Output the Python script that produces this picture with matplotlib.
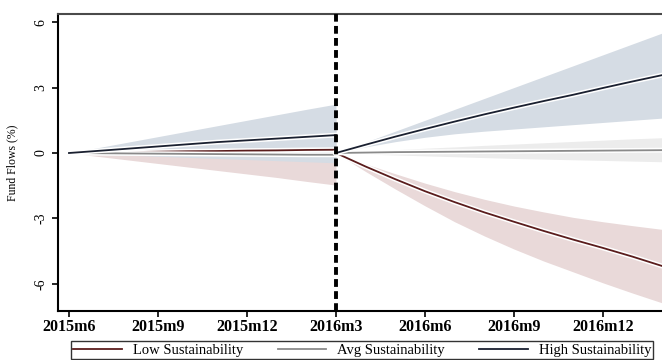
import matplotlib
matplotlib.use('Agg')
import matplotlib.pyplot as plt
import matplotlib.patheffects as pe
import numpy as np

# months since 2015m6
months_pre = [0, 1, 2, 3, 4, 5, 6, 7, 8, 9]
months_post = [9, 10, 11, 12, 13, 14, 15, 16, 17, 18, 19, 20]
tick_pos = [0, 3, 6, 9, 12, 15, 18]
tick_labels = ['2015m6', '2015m9', '2015m12', '2016m3', '2016m6', '2016m9', '2016m12']
event_month = 9

# pre-period responses
high_pre = [0, 0.1, 0.2, 0.3, 0.4, 0.5, 0.58, 0.66, 0.74, 0.82]
high_pre_hi = [0, 0.25, 0.5, 0.75, 1.0, 1.25, 1.5, 1.75, 2.0, 2.24]
high_pre_lo = [0, -0.05, -0.1, -0.15, -0.2, -0.25, -0.3, -0.35, -0.4, -0.45]
avg_pre = [0, -0.01, -0.02, -0.03, -0.04, -0.05, -0.06, -0.07, -0.08, -0.08]
avg_pre_hi = [0, 0.03, 0.06, 0.09, 0.12, 0.15, 0.18, 0.21, 0.24, 0.27]
avg_pre_lo = [0, -0.04, -0.08, -0.12, -0.16, -0.2, -0.24, -0.28, -0.32, -0.36]
low_pre = [0, 0.02, 0.04, 0.06, 0.08, 0.09, 0.11, 0.12, 0.14, 0.15]
low_pre_hi = [0, 0.2, 0.4, 0.6, 0.8, 1.0, 1.2, 1.4, 1.6, 1.75]
low_pre_lo = [0, -0.16, -0.32, -0.48, -0.64, -0.8, -0.96, -1.12, -1.3, -1.47]

# post-period responses
high_post = [0, 0.38, 0.75, 1.1, 1.44, 1.77, 2.08, 2.38, 2.67, 2.98, 3.28, 3.57]
high_post_hi = [0, 0.5, 1.0, 1.5, 2.0, 2.5, 3.0, 3.5, 4.0, 4.5, 5.0, 5.5]
high_post_lo = [0, 0.28, 0.52, 0.72, 0.88, 1.0, 1.1, 1.2, 1.3, 1.4, 1.5, 1.6]
avg_post = [0, 0.02, 0.04, 0.05, 0.06, 0.07, 0.08, 0.09, 0.1, 0.11, 0.12, 0.13]
avg_post_hi = [0, 0.08, 0.15, 0.22, 0.28, 0.35, 0.41, 0.47, 0.53, 0.59, 0.65, 0.7]
avg_post_lo = [0, -0.05, -0.09, -0.13, -0.17, -0.21, -0.25, -0.28, -0.31, -0.34, -0.37, -0.4]
low_post = [0, -0.62, -1.2, -1.75, -2.25, -2.72, -3.15, -3.57, -3.97, -4.35, -4.75, -5.18]
low_post_hi = [0, -0.5, -0.95, -1.38, -1.77, -2.12, -2.43, -2.7, -2.95, -3.15, -3.33, -3.5]
low_post_lo = [0, -0.85, -1.65, -2.42, -3.15, -3.8, -4.4, -4.95, -5.45, -5.95, -6.42, -6.87]

plt.rcParams['font.family'] = ['Liberation Serif', 'DejaVu Serif']

c_low, c_avg, c_high = '#5a1c1c', '#8a8a8a', '#1a2030'
f_low, f_avg, f_high = '#e9d9d9', '#ececec', '#d5dce4'

fig = plt.figure(figsize=(6.62, 3.6), dpi=100)
ax = fig.add_axes([58 / 662, 1 - 311 / 360, 612 / 662, 297 / 360])

halo = [pe.Stroke(linewidth=3.5, foreground='white'), pe.Normal()]

for m, lo, hi, fc in [
    (months_pre, low_pre_lo, low_pre_hi, f_low),
    (months_pre, avg_pre_lo, avg_pre_hi, f_avg),
    (months_pre, high_pre_lo, high_pre_hi, f_high),
    (months_post, low_post_lo, low_post_hi, f_low),
    (months_post, avg_post_lo, avg_post_hi, f_avg),
    (months_post, high_post_lo, high_post_hi, f_high),
]:
    ax.fill_between(m, lo, hi, color=fc, lw=0, zorder=1)
for m, mid, lc in [
    (months_pre, low_pre, c_low), (months_pre, avg_pre, c_avg), (months_pre, high_pre, c_high),
    (months_post, low_post, c_low), (months_post, avg_post, c_avg), (months_post, high_post, c_high),
]:
    ax.plot(m, mid, color=lc, lw=1.3, zorder=3, path_effects=halo)

ax.axvline(event_month, color='black', lw=2.8, ls=(0, (2.0, 1.1)), zorder=4)

ax.set_xlim(-0.37, 20.26)
ax.set_ylim(-7.24, 6.37)
ax.set_xticks(tick_pos)
ax.set_xticklabels(tick_labels, fontsize=11.5, fontweight='bold')
ax.set_yticks([-6, -3, 0, 3, 6])
ax.set_yticklabels(['-6', '-3', '0', '3', '6'], rotation=90, va='center', fontsize=10)
ax.tick_params(axis='both', direction='out', length=4, width=1.2, color='black')
ax.tick_params(axis='x', pad=2)
ax.set_ylabel('Fund Flows (%)', fontsize=8.5, labelpad=12)

for s in ['left', 'bottom']:
    ax.spines[s].set_linewidth(1.5)
    ax.spines[s].set_color('black')
ax.spines['top'].set_linewidth(1.5)
ax.spines['top'].set_color('#4a4a4a')
ax.spines['right'].set_visible(False)

handles = [plt.Line2D([], [], color=c_low, lw=1.3),
           plt.Line2D([], [], color=c_avg, lw=1.3),
           plt.Line2D([], [], color=c_high, lw=1.3)]
leg = fig.legend(handles, ['Low Sustainability', 'Avg Sustainability', 'High Sustainability'],
                 loc='upper left', bbox_to_anchor=(64 / 662, 1 - 334 / 360), ncol=3,
                 fontsize=10.5, frameon=True, fancybox=False, handlelength=3.3,
                 columnspacing=2.4, borderpad=0.15, handletextpad=0.75)
leg.get_frame().set_edgecolor('black')
leg.get_frame().set_linewidth(1.0)

fig.savefig('out.png', dpi=100)
